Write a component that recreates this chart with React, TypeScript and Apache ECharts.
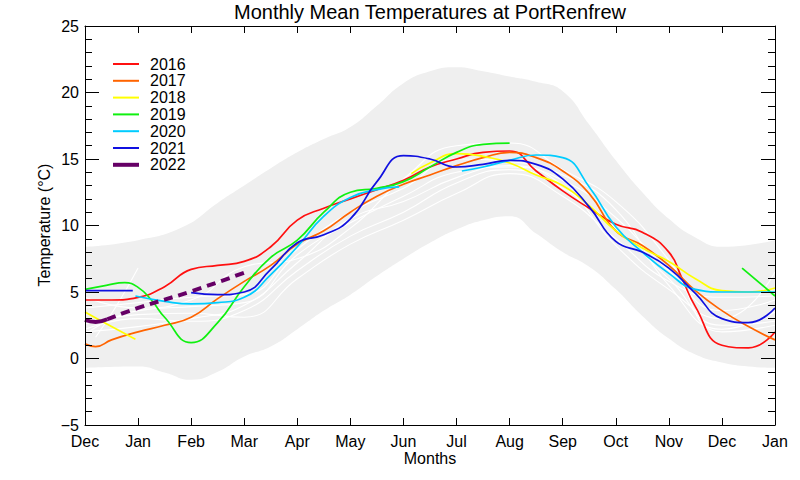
import React, { useEffect, useRef } from "react";
import * as echarts from "echarts";

type Pt = [number, number];

// x: 0 = Dec, 1 = Jan, ... 12 = Dec, 13 = Jan
const monthLabels = ["Dec", "Jan", "Feb", "Mar", "Apr", "May", "Jun", "Jul", "Aug", "Sep", "Oct", "Nov", "Dec", "Jan"];
const yearNames = ["2016", "2017", "2018", "2019", "2020", "2021", "2022"];
const yearColors = ["#ff1010", "#ff6400", "#ffff00", "#10f010", "#00ccff", "#1010e0", "#660066"];

const bandUpper: Pt[] = [[0, 8.4], [1, 8.9], [1.85, 9.9], [2.5, 11.7], [3, 13.0], [3.5, 14.3], [4, 15.5], [4.5, 16.5], [5, 17.4], [5.5, 19.0], [6, 20.7], [6.5, 21.6], [7, 21.9], [7.5, 21.6], [8, 21.2], [8.5, 20.8], [9, 20.1], [9.5, 17.6], [10, 14.9], [10.5, 12.5], [11, 10.5], [11.5, 9.1], [12, 8.4], [13, 8.9]];
const bandLower: Pt[] = [[0, -0.7], [1, -0.6], [1.5, -1.05], [2, -1.6], [2.5, -1.0], [3, 0.15], [3.5, 0.9], [4, 2.2], [4.5, 3.6], [5, 4.8], [5.5, 6.2], [6, 7.5], [6.5, 8.7], [7, 9.7], [7.5, 10.4], [8, 10.7], [8.5, 9.4], [9, 8.0], [9.5, 6.9], [10, 5.2], [10.5, 3.2], [11, 1.5], [11.5, 0.3], [12, -0.3], [12.5, -0.6], [13, -0.7]];

// historical years (white)
const hist1: Pt[] = [[0, 2.2], [1, 3.0], [2, 2.8], [3, 3.6], [4, 6.6], [5, 9.2], [6, 11.0], [7, 13.2], [8, 14.2], [9, 12.8], [10, 9.8], [11, 6.0], [12, 2.5], [13, 2.8]];
const hist2: Pt[] = [[0.2, 1.6], [0.6, 4.0], [1, 6.8]];
const hist3: Pt[] = [[0, 1.8], [1, 3.6], [2, 3.9], [3, 4.2], [4, 7.8], [5, 10.2], [6, 12.2], [7, 14.0], [8, 14.4], [9, 13.4], [10, 10.6], [11, 6.6], [12, 3.6], [13, 4.4]];
const hist4: Pt[] = [[0, 3.8], [1, 4.2], [2, 4.6], [3, 4.8], [4, 8.2], [5, 11.0], [6, 12.8], [7, 15.0], [8, 14.8], [9, 13.8], [10, 11.2], [11, 5.5], [12, 2.2], [13, 3.5]];
const hist5: Pt[] = [[0, 2.6], [1, 3.3], [2, 3.4], [3, 3.1], [4, 6.0], [5, 8.6], [6, 10.4], [7, 12.4], [8, 13.9], [9, 12.2], [10, 9.0], [11, 5.8], [12, 4.6], [13, 4.7]];
const hist6: Pt[] = [[0, 4.6], [1, 3.8], [2, 4.4], [3, 6.9], [4, 7.5], [5, 9.8], [6, 13.5], [7, 16.0], [8, 16.2], [9, 14.2], [10, 11.8], [11, 7.4], [12, 2.0], [13, 2.5]];
const hist7: Pt[] = [[0, 2.0], [1, 2.4], [2, 3.0], [3, 4.0], [4, 7.2], [5, 10.5], [6, 11.8], [7, 13.6], [8, 14.5], [9, 13.0], [10, 8.5], [11, 5.2], [12, 3.0], [13, 6.5]];

const y2016: Pt[] = [[0, 4.4], [0.5, 4.4], [1, 4.6], [1.5, 5.4], [2, 6.7], [2.5, 7.0], [3, 7.3], [3.5, 8.4], [4, 10.4], [4.5, 11.3], [5, 12.0], [5.5, 12.7], [6, 13.4], [6.5, 14.4], [7, 15.0], [7.5, 15.5], [8, 15.6], [8.5, 14.1], [9, 12.6], [9.5, 11.3], [10, 10.1], [10.5, 9.5], [11, 8.0], [11.25, 6.0], [11.5, 3.9], [12, 1.0], [12.5, 0.8], [13, 2.0]];
const y2017: Pt[] = [[0, 1.1], [0.2, 0.9], [0.5, 1.4], [1, 2.0], [1.5, 2.5], [2, 3.1], [2.5, 4.5], [3, 5.8], [3.5, 7.0], [4, 8.6], [4.5, 9.6], [5, 11.0], [5.5, 12.2], [6, 13.1], [6.5, 13.8], [7, 14.5], [7.5, 15.1], [8, 15.5], [8.5, 15.1], [9, 14.1], [9.5, 12.4], [10, 9.6], [10.5, 8.5], [11, 7.0], [11.5, 5.1], [12, 3.6], [12.5, 2.4], [13, 1.4]];
const y2018a: Pt[] = [[0, 3.5], [0.5, 2.4], [0.95, 1.45]];
const y2018b: Pt[] = [[6.15, 13.9], [6.5, 14.7], [7, 15.4], [7.5, 15.2], [8, 14.7], [8.5, 13.8], [9, 13.0], [9.5, 11.5], [10, 9.6], [10.5, 8.3], [11, 7.3], [11.5, 6.0], [12, 5.1], [12.5, 5.0], [13, 5.3]];
const y2019a: Pt[] = [[0, 5.2], [0.4, 5.5], [0.75, 5.7], [1, 5.35], [1.25, 4.4], [1.5, 3.1], [2, 1.2], [2.5, 2.7], [3, 5.4], [3.5, 7.6], [4, 8.9], [4.5, 11.0], [5, 12.5], [5.5, 12.8], [6, 13.3], [6.5, 14.4], [7, 15.5], [7.5, 16.1], [8, 16.2]];
const y2019b: Pt[] = [[12.38, 6.8], [13, 4.7]];
const y2020a: Pt[] = [[0.95, 4.7], [1.5, 4.3], [2, 4.1], [2.5, 4.2], [3, 4.6], [3.5, 6.3], [4, 8.4], [4.5, 10.7], [5, 12.1], [5.5, 12.7], [5.92, 12.9]];
const y2020b: Pt[] = [[7.1, 14.1], [7.5, 14.4], [8, 14.9], [8.5, 15.3], [9, 15.1], [9.5, 12.9], [10, 9.9], [10.5, 8.0], [11, 6.4], [11.5, 5.2], [12, 5.0], [12.5, 5.0], [13, 5.0]];
const y2021a: Pt[] = [[0, 5.1], [0.9, 5.1]];
const y2021b: Pt[] = [[2, 4.95], [2.5, 4.8], [3, 5.0], [3.5, 6.7], [4, 8.7], [4.5, 9.3], [5, 10.5], [5.5, 13.3], [6, 15.25], [6.5, 15.0], [7, 14.4], [7.5, 14.6], [8, 14.9], [8.5, 14.6], [9, 13.5], [9.5, 11.4], [10, 8.8], [10.5, 8.0], [11, 6.8], [11.5, 4.9], [12, 3.0], [12.5, 2.7], [13, 3.8]];
const y2022solid: Pt[] = [[0, 2.9], [0.2, 2.75], [0.42, 2.95]];
const y2022dashed: Pt[] = [[0.42, 2.95], [1, 3.8], [2, 5.05], [3, 6.45]];

const FONT = '"Liberation Sans", Arial, Helvetica, sans-serif';

export default function App() {
  const ref = useRef<HTMLDivElement>(null);

  useEffect(() => {
    if (!ref.current) return;
    const chart = echarts.init(ref.current, undefined, { renderer: "svg" });

    const lineSeries = (name: string | undefined, data: Pt[], color: string, width: number, extra: any = {}) => ({
      type: "line",
      name,
      data,
      smooth: true,
      symbol: "none",
      xAxisIndex: 0,
      yAxisIndex: 0,
      silent: true,
      lineStyle: { color, width, ...(extra.lineStyle || {}) },
      itemStyle: { color, opacity: 0 },
      z: extra.z ?? 5,
    });

    const histSeries = [hist1, hist2, hist3, hist4, hist5, hist6, hist7].map((h) =>
      lineSeries(undefined, h, "#ffffff", 1.1, { z: 3 })
    );

    const yearSegs: [number, Pt[]][] = [
      [0, y2016], [1, y2017], [2, y2018a], [2, y2018b], [3, y2019a], [3, y2019b],
      [4, y2020a], [4, y2020b], [5, y2021a], [5, y2021b],
    ];
    const colored = yearSegs.map(([i, d]) => lineSeries(yearNames[i], d, yearColors[i], 1.7));

    const axisCommon = {
      axisLine: { show: true, onZero: false, lineStyle: { color: "#000", width: 1 } },
      splitLine: { show: false },
      z: 10,
    };

    const option: any = {
      animation: false,
      backgroundColor: "#ffffff",
      grid: { left: 85, right: 25, top: 26, bottom: 55, containLabel: false },
      legend: {
        data: yearNames.map((n, i) => ({ name: n, lineStyle: { width: i === 6 ? 4 : 2 } })),
        orient: "vertical",
        left: 106,
        top: 51,
        itemWidth: 26,
        itemHeight: 14,
        itemGap: 0.8,
        itemStyle: { opacity: 0 },
        textStyle: { fontSize: 16, fontFamily: FONT, color: "#000", padding: [0, 0, 0, 6], lineHeight: 16 },
        selectedMode: false,
      },
      xAxis: [
        {
          type: "value", position: "bottom", min: 0, max: 13, interval: 1,
          ...axisCommon,
          axisTick: { show: true, inside: true, length: 7, lineStyle: { color: "#000" } },
          axisLabel: {
            show: true, margin: 8, fontSize: 16, fontFamily: FONT, color: "#000",
            formatter: (v: number) => monthLabels[Math.round(v)] ?? "",
            showMinLabel: true, showMaxLabel: true,
          },
        },
        {
          type: "value", position: "top", min: 0, max: 13, interval: 1,
          ...axisCommon,
          axisTick: { show: true, inside: true, length: 7, lineStyle: { color: "#000" } },
          axisLabel: { show: false },
        },
      ],
      yAxis: [
        {
          type: "value", position: "left", min: -5, max: 25, interval: 5,
          ...axisCommon,
          axisTick: { show: true, inside: true, length: 14, lineStyle: { color: "#000" } },
          minorTick: { show: true, splitNumber: 5, length: 7, lineStyle: { color: "#000" } },
          minorSplitLine: { show: false },
          axisLabel: {
            show: true, margin: 6, fontSize: 16, fontFamily: FONT, color: "#000",
            formatter: (v: number) => String(v).replace("-", "\u2212"),
          },
        },
        {
          type: "value", position: "right", min: -5, max: 25, interval: 5,
          ...axisCommon,
          axisTick: { show: true, inside: true, length: 14, lineStyle: { color: "#000" } },
          minorTick: { show: true, splitNumber: 5, length: 7, lineStyle: { color: "#000" } },
          minorSplitLine: { show: false },
          axisLabel: { show: false },
        },
      ],
      graphic: [
        {
          type: "text", x: 430, y: 12, silent: true,
          style: { text: "Monthly Mean Temperatures at PortRenfrew", font: `20px ${FONT}`, fill: "#000", align: "center", verticalAlign: "middle", textAlign: "center", textVerticalAlign: "middle" },
        },
        {
          type: "text", x: 430, y: 458, silent: true,
          style: { text: "Months", font: `16px ${FONT}`, fill: "#000", align: "center", verticalAlign: "middle", textAlign: "center", textVerticalAlign: "middle" },
        },
        {
          type: "text", x: 44, y: 225, rotation: Math.PI / 2, silent: true,
          style: { text: "Temperature (\u00B0C)", font: `16px ${FONT}`, fill: "#000", align: "center", verticalAlign: "middle", textAlign: "center", textVerticalAlign: "middle" },
        },
      ],
      series: [
        {
          type: "line", data: bandUpper, smooth: true, symbol: "none", silent: true,
          lineStyle: { width: 0, color: "#efefef" },
          areaStyle: { color: "#efefef", origin: "start", opacity: 1 },
          z: 1,
        },
        {
          type: "line", data: bandLower, smooth: true, symbol: "none", silent: true,
          lineStyle: { width: 0, color: "#ffffff" },
          areaStyle: { color: "#ffffff", origin: "start", opacity: 1 },
          z: 2,
        },
        ...histSeries,
        ...colored,
        lineSeries("2022", y2022solid, yearColors[6], 4, { z: 6 }),
        lineSeries("2022", y2022dashed, yearColors[6], 4, { z: 6, lineStyle: { type: [9, 6] } }),
      ],
    };

    chart.setOption(option);
    return () => chart.dispose();
  }, []);

  return (
    <div
      ref={ref}
      style={{ position: "fixed", left: 0, top: 0, width: 800, height: 480, background: "#fff" }}
    />
  );
}
